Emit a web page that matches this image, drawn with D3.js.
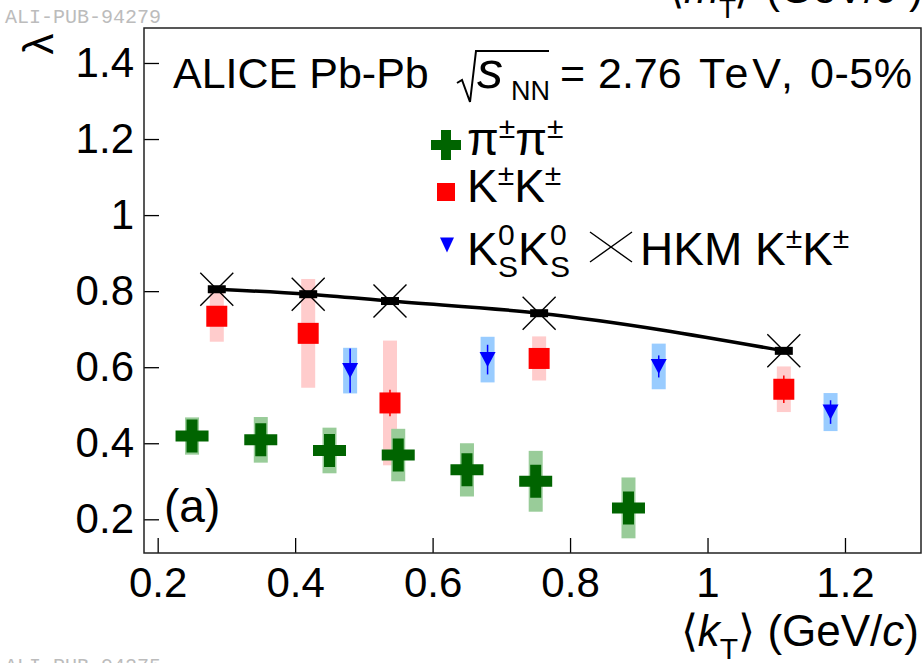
<!DOCTYPE html>
<html>
<head>
<meta charset="utf-8">
<script src="https://cdn.jsdelivr.net/npm/d3@7"></script>
<style>
  html, body { margin: 0; padding: 0; background: #fff; }
  svg { display: block; font-family: "Liberation Sans", Arial, Helvetica, sans-serif; }
</style>
</head>
<body>
<svg id="chart" width="924" height="663"></svg>
<script>
// ---------------- data ----------------
const xTicks = [0.2, 0.4, 0.6, 0.8, 1.0, 1.2];
const xTickLabels = ["0.2", "0.4", "0.6", "0.8", "1", "1.2"];
const yTicks = [0.2, 0.4, 0.6, 0.8, 1.0, 1.2, 1.4];
const yTickLabels = ["0.2", "0.4", "0.6", "0.8", "1", "1.2", "1.4"];

// pi+- pi+-
const piKt  = [0.25, 0.35, 0.45, 0.55, 0.65, 0.75, 0.885];
const piLam = [0.419, 0.409, 0.381, 0.369, 0.330, 0.300, 0.230];
const piSys = [0.049, 0.060, 0.060, 0.069, 0.070, 0.080, 0.080];

// K+- K+-
const kKt   = [0.286, 0.419, 0.538, 0.755, 1.111];
const kLam  = [0.734, 0.689, 0.506, 0.623, 0.542];
const kStat = [0.020, 0.025, 0.035, 0.020, 0.036];
const kSys  = [0.067, 0.143, 0.164, 0.058, 0.060];

// K0s K0s
const k0Kt   = [0.480, 0.680, 0.929, 1.179];
const k0Lam  = [0.591, 0.620, 0.602, 0.482];
const k0Stat = [0.058, 0.039, 0.029, 0.031];
const k0Sys  = [0.060, 0.060, 0.060, 0.050];

// HKM K+- K+-
const hkmKt  = [0.286, 0.419, 0.538, 0.755, 1.111];
const hkmLam = [0.805, 0.792, 0.774, 0.742, 0.643];

// ---------------- layout ----------------
const svg = d3.select("#chart");
const L = 144, R = 921, T = 28, B = 553;
const x = d3.scaleLinear().domain([0.1801, 1.3106]).range([L, R]);
const y = d3.scaleLinear().domain([0.1114, 1.492]).range([B, T]);

const FONT = '"Liberation Sans", Arial, Helvetica, sans-serif';
const cGreen = "#006400", cGreenBox = "#99cc99";
const cRed = "#ff0000", cRedBox = "#ffcccc";
const cBlue = "#0000ff", cBlueBox = "#99ccff";

// watermarks
svg.append("text").attr("x", 5).attr("y", 23)
  .attr("font-family", '"Liberation Mono", "Courier New", monospace').attr("font-size", 20)
  .attr("fill", "#bcbcbc").text("ALI-PUB-94279");
svg.append("text").attr("x", 5).attr("y", 672)
  .attr("font-family", '"Liberation Mono", "Courier New", monospace').attr("font-size", 20)
  .attr("fill", "#bcbcbc").text("ALI-PUB-94275");

// cropped top label of neighbouring panel
const tl = svg.append("g").attr("font-size", 42).attr("fill", "#000");
tl.append("text").attr("x", 719).attr("y", 3).attr("text-anchor", "end")
  .html('\u27E8<tspan font-style="italic">m</tspan>');
tl.append("text").attr("x", 719).attr("y", 18).attr("font-size", 28).text("T");
tl.append("text").attr("x", 734).attr("y", 3).text("\u27E9");
const tl2 = tl.append("text").attr("x", 766).attr("y", 3);
tl2.append("tspan").text("(GeV/");
tl2.append("tspan").attr("font-style", "italic").text("c");
tl2.append("tspan").attr("font-size", 22).attr("dy", -16).text("2");
tl2.append("tspan").attr("dy", 16).text(")");

// ---------------- axes ----------------
const xAxis = d3.axisBottom(x).tickValues(xTicks)
  .tickFormat((d, i) => xTickLabels[i]).tickSizeInner(-15).tickSizeOuter(0).tickPadding(14);
const gx = svg.append("g").attr("transform", `translate(0,${B})`).call(xAxis);
gx.select(".domain").remove();
gx.selectAll("line").attr("stroke", "#000").attr("stroke-width", 1.3);
gx.selectAll("text").attr("font-size", 42).attr("font-family", FONT).attr("fill", "#000");

const yAxis = d3.axisLeft(y).tickValues(yTicks)
  .tickFormat((d, i) => yTickLabels[i]).tickSizeInner(-15).tickSizeOuter(0).tickPadding(10);
const gy = svg.append("g").attr("transform", `translate(${L},0)`).call(yAxis);
gy.select(".domain").remove();
gy.selectAll("line").attr("stroke", "#000").attr("stroke-width", 1.3);
gy.selectAll("text").attr("font-size", 42).attr("font-family", FONT).attr("fill", "#000");

// axis titles
svg.append("text").attr("transform", "translate(53,44) rotate(-90)")
  .attr("text-anchor", "middle").attr("font-size", 42).text("\u03BB");

const xt = svg.append("text").attr("x", 919).attr("y", 646).attr("text-anchor", "end")
  .attr("font-size", 44).attr("fill", "#000");
xt.append("tspan").text("\u27E8");
xt.append("tspan").attr("font-style", "italic").text("k");
xt.append("tspan").attr("font-size", 30).attr("dy", 13).text("T");
xt.append("tspan").attr("dy", -13).text("\u27E9 (GeV/");
xt.append("tspan").attr("font-style", "italic").text("c");
xt.append("tspan").text(")");

// ---------------- systematic boxes ----------------
const boxW = 14;
function sysBoxes(xs, ys, es, col) {
  svg.append("g").selectAll("rect").data(xs).join("rect")
    .attr("x", d => x(d) - boxW / 2)
    .attr("width", boxW)
    .attr("y", (d, i) => y(ys[i] + es[i]))
    .attr("height", (d, i) => y(ys[i] - es[i]) - y(ys[i] + es[i]))
    .attr("fill", col);
}
sysBoxes(k0Kt, k0Lam, k0Sys, cBlueBox);
sysBoxes(kKt, kLam, kSys, cRedBox);
sysBoxes(piKt, piLam, piSys, cGreenBox);

// stat error bars
function statBars(xs, ys, es, col) {
  svg.append("g").selectAll("line").data(xs).join("line")
    .attr("x1", d => x(d)).attr("x2", d => x(d))
    .attr("y1", (d, i) => y(ys[i] + es[i]))
    .attr("y2", (d, i) => y(ys[i] - es[i]))
    .attr("stroke", col).attr("stroke-width", 1.5);
}
statBars(kKt, kLam, kStat, cRed);
statBars(k0Kt, k0Lam, k0Stat, cBlue);

// ---------------- HKM line ----------------
const hkmPts = hkmKt.map((d, i) => [d, hkmLam[i]]);
svg.append("path").datum(hkmPts)
  .attr("d", d3.line().x(d => x(d[0])).y(d => y(d[1])).curve(d3.curveMonotoneX))
  .attr("fill", "none").attr("stroke", "#000").attr("stroke-width", 3.5);
svg.append("g").selectAll("rect").data(hkmPts).join("rect")
  .attr("x", d => x(d[0]) - 9).attr("y", d => y(d[1]) - 4)
  .attr("width", 18).attr("height", 8).attr("fill", "#000");
const xMark = (cx, cy, hw, hh) => `M${cx - hw},${cy - hh}L${cx + hw},${cy + hh}M${cx - hw},${cy + hh}L${cx + hw},${cy - hh}`;
svg.append("g").selectAll("path").data(hkmPts).join("path")
  .attr("d", d => xMark(x(d[0]), y(d[1]), 16.5, 16.5))
  .attr("stroke", "#000").attr("stroke-width", 1.4).attr("fill", "none");

// ---------------- markers ----------------
const crossSym = d3.symbol().type(d3.symbolCross).size(5 * Math.pow(33 / 3, 2));
svg.append("g").selectAll("path").data(piKt).join("path")
  .attr("transform", (d, i) => `translate(${x(d)},${y(piLam[i])})`)
  .attr("d", crossSym()).attr("fill", cGreen);

const sq = 21;
svg.append("g").selectAll("rect").data(kKt).join("rect")
  .attr("x", d => x(d) - sq / 2).attr("y", (d, i) => y(kLam[i]) - sq / 2)
  .attr("width", sq).attr("height", sq).attr("fill", cRed);

const triDown = (cx, cy, w, h) => `M${cx - w / 2},${cy - h / 2}L${cx + w / 2},${cy - h / 2}L${cx},${cy + h / 2}Z`;
svg.append("g").selectAll("path").data(k0Kt).join("path")
  .attr("d", (d, i) => triDown(x(d), y(k0Lam[i]), 16, 15)).attr("fill", cBlue);

// ---------------- frame ----------------
svg.append("rect").attr("x", L).attr("y", T).attr("width", R - L).attr("height", B - T)
  .attr("fill", "none").attr("stroke", "#222").attr("stroke-width", 1.5);

// ---------------- title ----------------
const tsz = 43;
svg.append("text").attr("x", 173).attr("y", 88).attr("font-size", tsz).text("ALICE Pb-Pb");
svg.append("path").attr("d", "M457,83 L462,80 L470,102 L476,51 L549,51")
  .attr("fill", "none").attr("stroke", "#000").attr("stroke-width", 2);
svg.append("text").attr("x", 477).attr("y", 88).attr("font-size", 52).attr("font-style", "italic").text("s");
svg.append("text").attr("x", 511).attr("y", 100).attr("font-size", 27).text("NN");
svg.append("text").attr("x", 560).attr("y", 88).attr("font-size", tsz).text("=");
svg.append("text").attr("x", 598).attr("y", 88).attr("font-size", tsz).text("2.76");
svg.append("text").attr("x", 699).attr("y", 88).attr("font-size", tsz).attr("textLength", 94).text("TeV,");
svg.append("text").attr("x", 810).attr("y", 88).attr("font-size", tsz).attr("textLength", 102).text("0-5%");

// (a)
svg.append("text").attr("x", 164).attr("y", 522).attr("font-size", 46).text("(a)");

// ---------------- legend ----------------
const lsz = 46, ssz = 30, lx = 467;
svg.append("path").attr("transform", "translate(446,145)")
  .attr("d", d3.symbol().type(d3.symbolCross).size(5 * Math.pow(30 / 3, 2))()).attr("fill", cGreen);
const r1 = svg.append("text").attr("x", lx).attr("y", 155).attr("font-size", lsz);
r1.append("tspan").text("\u03C0");
r1.append("tspan").attr("font-size", ssz).attr("dy", -17).text("\u00B1");
r1.append("tspan").attr("dy", 17).text("\u03C0");
r1.append("tspan").attr("font-size", ssz).attr("dy", -17).text("\u00B1");

svg.append("rect").attr("x", 437).attr("y", 183).attr("width", 18).attr("height", 18).attr("fill", cRed);
const r2 = svg.append("text").attr("x", lx).attr("y", 202).attr("font-size", lsz);
r2.append("tspan").text("K");
r2.append("tspan").attr("font-size", ssz).attr("dy", -17).text("\u00B1");
r2.append("tspan").attr("dy", 17).text("K");
r2.append("tspan").attr("font-size", ssz).attr("dy", -17).text("\u00B1");

svg.append("path").attr("d", triDown(447, 245, 14, 15)).attr("fill", cBlue);
const r3 = svg.append("text").attr("y", 265).attr("font-size", lsz);
r3.append("tspan").attr("x", lx).attr("y", 265).text("K");
r3.append("tspan").attr("x", 498).attr("y", 245).attr("font-size", ssz).text("0");
r3.append("tspan").attr("x", 498).attr("y", 277).attr("font-size", ssz).text("S");
r3.append("tspan").attr("x", 518).attr("y", 265).text("K");
r3.append("tspan").attr("x", 550).attr("y", 245).attr("font-size", ssz).text("0");
r3.append("tspan").attr("x", 550).attr("y", 277).attr("font-size", ssz).text("S");

svg.append("path").attr("d", xMark(611, 247, 21, 15)).attr("stroke", "#000").attr("stroke-width", 1.4);
const r4 = svg.append("text").attr("x", 640).attr("y", 265).attr("font-size", lsz);
r4.append("tspan").text("HKM K");
r4.append("tspan").attr("font-size", ssz).attr("dy", -17).text("\u00B1");
r4.append("tspan").attr("dy", 17).text("K");
r4.append("tspan").attr("font-size", ssz).attr("dy", -17).text("\u00B1");
</script>
</body>
</html>
